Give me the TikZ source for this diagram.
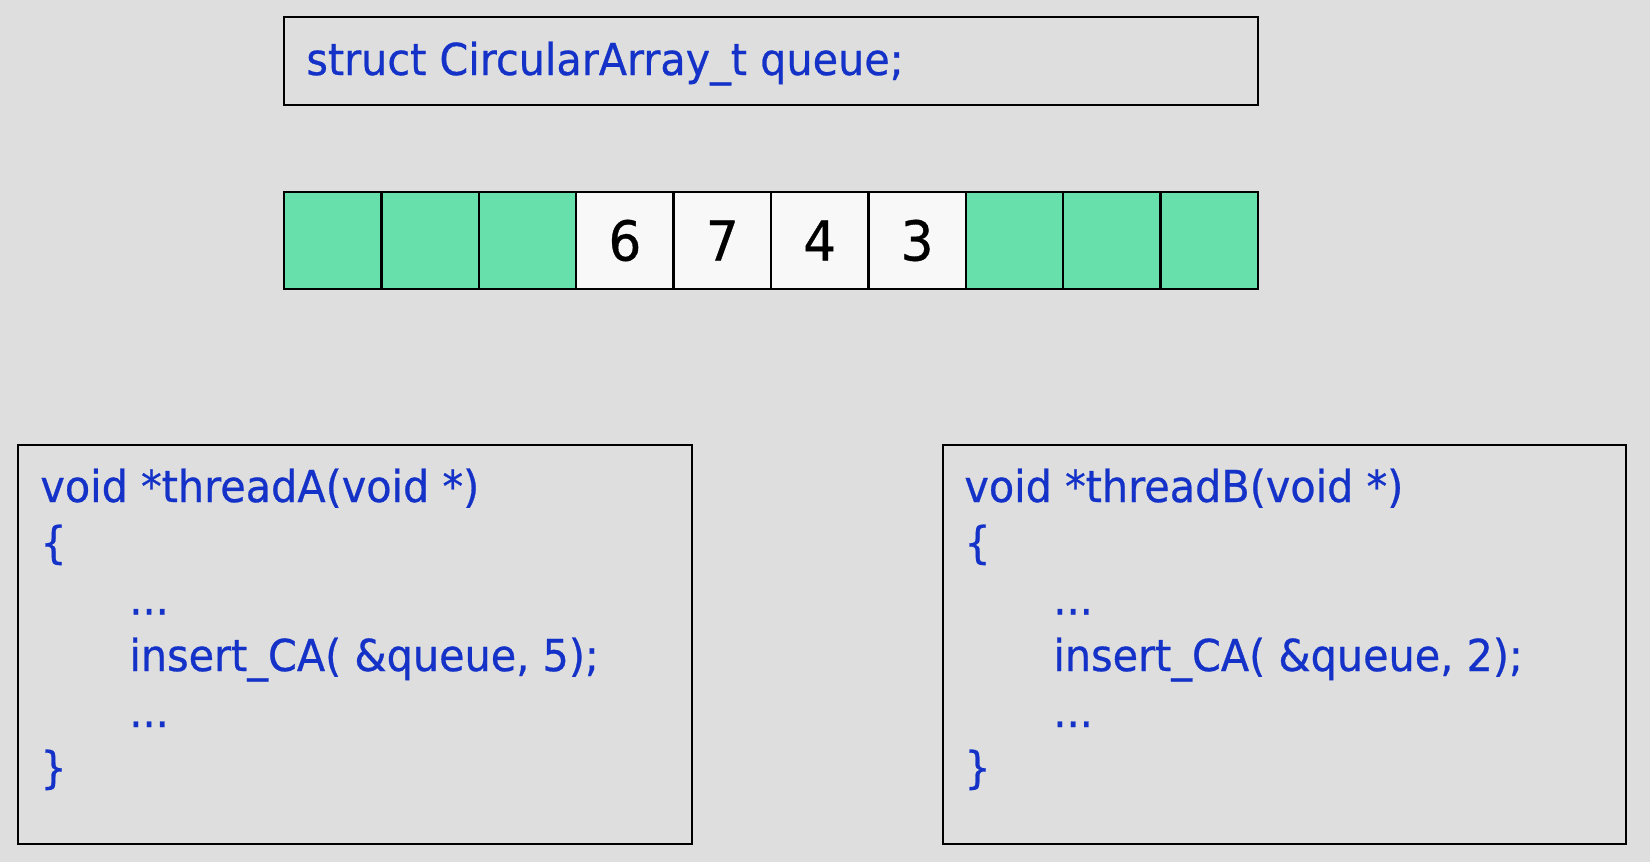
\documentclass[tikz,border=0pt]{standalone}
\usepackage{fontspec}
\setmainfont{DejaVu Sans}[FakeStretch=0.94,FakeBold=0.6]
\definecolor{bgcol}{RGB}{222,222,222}
\definecolor{codeblue}{RGB}{20,50,200}
\definecolor{freecell}{RGB}{104,224,172}
\definecolor{usedcell}{RGB}{248,248,248}
\tikzset{
  frame/.style={draw=black, line width=1.3pt, inner sep=0pt},
  cell/.style={draw=black, line width=1.2pt, inner sep=0pt, minimum width=48.7pt, minimum height=48.5pt,
    font=\fontsize{27.5}{30}\selectfont, text=black},
  freec/.style={cell, fill=freecell},
  usedc/.style={cell, fill=usedcell},
  code/.style={anchor=base west, inner sep=0pt, text=codeblue, font=\fontsize{22}{26}\selectfont}
}
\begin{document}
\begin{tikzpicture}[x=0.5pt,y=-0.5pt]
\fill[bgcol] (0,0) rectangle (1650,862);
\useasboundingbox (0,0) rectangle (1650,862);

% declaration box
\node[frame, minimum width=487pt, minimum height=44pt] (decl) at (771,61) {};
\node[code] (decltext) at (306,75) {struct CircularArray\_t queue;};

% circular array cells
\foreach \i/\v/\s in {0//freec,1//freec,2//freec,3/6/usedc,4/7/usedc,5/4/usedc,6/3/usedc,7//freec,8//freec,9//freec}{
  \node[\s] (c\i) at ({284+48.7+97.4*\i},240.5) {\v};
}

% thread A box
\node[frame, minimum width=337pt, minimum height=199.5pt] (boxA) at (355,644.5) {};
\node[code] (a1) at (40,502) {void *threadA(void *)};
\node[code] (a2) at (40,558) {\{};
\node[code] (a3) at (129,614.5) {...};
\node[code] (a4) at (129,671) {insert\_CA( \&queue, 5);};
\node[code] (a5) at (129,727) {...};
\node[code] (a6) at (40,783) {\}};

% thread B box
\node[frame, minimum width=341.5pt, minimum height=199.5pt] (boxB) at (1284.5,644.5) {};
\node[code] (b1) at (964,502) {void *threadB(void *)};
\node[code] (b2) at (964,558) {\{};
\node[code] (b3) at (1053,614.5) {...};
\node[code] (b4) at (1053,671) {insert\_CA( \&queue, 2);};
\node[code] (b5) at (1053,727) {...};
\node[code] (b6) at (964,783) {\}};
\end{tikzpicture}
\end{document}
